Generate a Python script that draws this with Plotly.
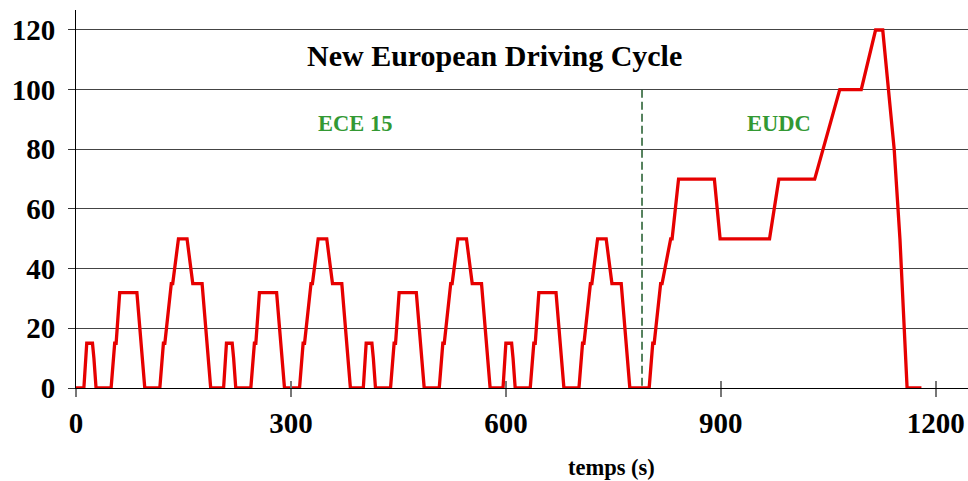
import plotly.graph_objects as go

# NEDC speed profile: breakpoints of the four urban ECE-15 cycles and the EUDC
time_s = [
    0, 11, 15, 23, 25, 28, 49, 54, 56, 61, 85, 93, 96, 117, 122, 124, 133, 135, 143, 155, 163, 176, 185, 188,
    195, 206, 210, 218, 220, 223, 244, 249, 251, 256, 280, 288, 291, 312, 317, 319, 328, 330, 338, 350, 358, 371, 380, 383,
    390, 401, 405, 413, 415, 418, 439, 444, 446, 451, 475, 483, 486, 507, 512, 514, 523, 525, 533, 545, 553, 566, 575, 578,
    585, 596, 600, 608, 610, 613, 634, 639, 641, 646, 670, 678, 681, 702, 707, 709, 718, 720, 728, 740, 748, 761, 770, 773,
    780, 800, 805, 807, 816, 818, 830, 832, 841, 891, 899, 968, 981, 1031, 1066, 1096, 1116, 1126, 1142, 1150, 1160, 1180,
]
speed_kmh = [
    0, 0, 15, 15, 10, 0, 0, 15, 15, 32, 32, 10, 0, 0, 15, 15, 35, 35, 50, 50, 35, 35, 10, 0,
    0, 0, 15, 15, 10, 0, 0, 15, 15, 32, 32, 10, 0, 0, 15, 15, 35, 35, 50, 50, 35, 35, 10, 0,
    0, 0, 15, 15, 10, 0, 0, 15, 15, 32, 32, 10, 0, 0, 15, 15, 35, 35, 50, 50, 35, 35, 10, 0,
    0, 0, 15, 15, 10, 0, 0, 15, 15, 32, 32, 10, 0, 0, 15, 15, 35, 35, 50, 50, 35, 35, 10, 0,
    0, 0, 15, 15, 35, 35, 50, 50, 70, 70, 50, 50, 70, 70, 100, 100, 120, 120, 80, 50, 0, 0,
]

# boundary between the urban part and the extra-urban part
part_boundary_s = 790
part_boundary_top = 100

x_ticks = [0, 300, 600, 900, 1200]
y_ticks = [0, 20, 40, 60, 80, 100, 120]

FONT = "Liberation Serif, Times New Roman, serif"
GREEN = "#339933"

fig = go.Figure()

fig.add_trace(go.Scatter(
    x=time_s, y=speed_kmh, mode="lines",
    line=dict(color="#e60000", width=3.3),
    hoverinfo="skip", showlegend=False,
))

fig.add_trace(go.Scatter(
    x=[part_boundary_s, part_boundary_s], y=[part_boundary_top, 0], mode="lines",
    line=dict(color="#1f5a2a", width=1.5, dash="8px,4px"),
    hoverinfo="skip", showlegend=False,
))

# overlay axis carrying the upper half of the crossing x ticks
fig.add_trace(go.Scatter(x=[0], y=[0], xaxis="x2", mode="markers",
                         marker=dict(opacity=0), hoverinfo="skip", showlegend=False))

x_range = [0, 1245]

fig.update_layout(
    width=968, height=481,
    margin=dict(l=76, r=0, t=10, b=93),
    paper_bgcolor="white", plot_bgcolor="white",
    font=dict(family=FONT, color="black"),
    xaxis=dict(
        range=x_range, tickvals=x_ticks, ticktext=[str(v) for v in x_ticks],
        showgrid=False, zeroline=False,
        showline=True, linecolor="black", linewidth=1,
        ticks="outside", ticklen=8, tickcolor="#777", tickwidth=1.5,
        tickfont=dict(family=FONT, size=29, weight="bold", color="black"),
        ticklabelstandoff=1,
    ),
    xaxis2=dict(
        range=x_range, overlaying="x", anchor="y", side="bottom",
        tickvals=x_ticks, showticklabels=False,
        showgrid=False, zeroline=False, showline=False,
        ticks="inside", ticklen=7, tickcolor="#777", tickwidth=1.5,
    ),
    yaxis=dict(
        range=[0, 126.7], tickvals=y_ticks, ticktext=[str(v) for v in y_ticks],
        showgrid=True, gridcolor="#444", gridwidth=1,
        zeroline=False,
        showline=True, linecolor="black", linewidth=1,
        ticks="outside", ticklen=7, tickcolor="#333", tickwidth=1,
        tickfont=dict(family=FONT, size=29, weight="bold", color="black"),
        ticklabelstandoff=7,
    ),
    annotations=[
        dict(x=584, y=111.6, xref="x", yref="y", text="New European Driving Cycle",
             showarrow=False, font=dict(family=FONT, size=30, weight="bold", color="black")),
        dict(x=389, y=88.5, xref="x", yref="y", text="ECE 15",
             showarrow=False, font=dict(family=FONT, size=22.5, weight="bold", color=GREEN)),
        dict(x=981, y=88.5, xref="x", yref="y", text="EUDC",
             showarrow=False, font=dict(family=FONT, size=22.5, weight="bold", color=GREEN)),
        dict(x=0.5998, y=-0.209, xref="paper", yref="paper", xanchor="center", yanchor="middle",
             text="temps (s)", showarrow=False,
             font=dict(family=FONT, size=22.5, weight="bold", color="black")),
    ],
)

fig.write_html("out.html")
